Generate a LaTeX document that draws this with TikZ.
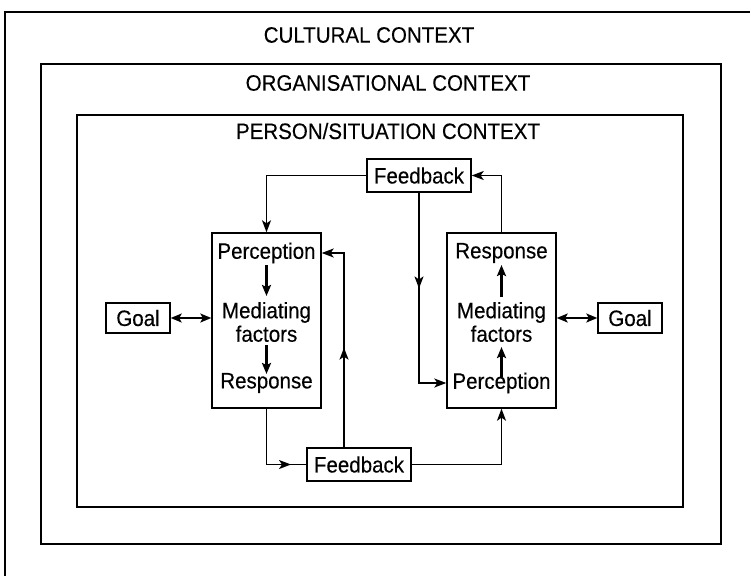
\documentclass[tikz,border=0pt]{standalone}
\usepackage{fontspec}
\setmainfont{Liberation Sans}[FakeStretch=0.92,FakeBold=0.3]
\usetikzlibrary{arrows.meta,decorations.markings}
\tikzset{
  every node/.style={font=\fontsize{22.3}{23.5}\selectfont, inner sep=0pt},
  ln/.style={line width=1.4pt},
  tip/.style={-{Stealth[length=12pt,width=9pt,inset=3pt]}},
  boxn/.style={draw, line width=1.4pt, rectangle},
  bigbox/.style={boxn, minimum width=109pt, minimum height=175pt},
  fbox/.style={boxn, minimum width=104pt, minimum height=33pt},
  gbox/.style={boxn, minimum width=64pt, minimum height=30pt},
  inarr/.style={line width=2.4pt, -{Stealth[length=11pt,width=9pt,inset=2pt]}},
  dbl/.style={line width=1.6pt, {Stealth[length=11pt,width=9pt,inset=2.5pt]}-{Stealth[length=11pt,width=9pt,inset=2.5pt]}},
  midtip/.style={postaction={decorate}, decoration={markings, mark=at position #1 with {\arrow{Stealth[length=12pt,width=9pt,inset=3pt]}}}}
}
\begin{document}
\begin{tikzpicture}[x=1pt,y=-1pt]
\useasboundingbox (0,0) rectangle (750,576);
% context frames
\draw[ln] (5,576) -- (5,12) -- (750,12);
\draw[ln] (41,64) rectangle (721,544);
\draw[ln] (77,115) rectangle (683,507);
\node (cult) at (369,35) {CULTURAL CONTEXT};
\node (org) at (388,83) {ORGANISATIONAL CONTEXT};
\node (pers) at (388,131) {PERSON/SITUATION CONTEXT};
% boxes
\node[bigbox] (lbox) at (266.5,320.5) {};
\node[bigbox] (rbox) at (501.5,320.5) {};
\node[fbox] (fbt) at (419,175.5) {Feedback};
\node[fbox] (fbb) at (359,464.5) {Feedback};
\node[gbox] (goalL) at (138,318) {Goal};
\node[gbox] (goalR) at (630,318) {Goal};
% inner texts
\node (lperc) at (266.5,253) {Perception};
\node[align=center] (lmed) at (266.5,322) {Mediating\\factors};
\node (lresp) at (266.5,383) {Response};
\node (rresp) at (501.5,253) {Response};
\node[align=center] (rmed) at (501.5,322) {Mediating\\factors};
\node (rperc) at (501.5,383) {Perception};
% inner arrows
\draw[inarr] (266.5,265) -- (266.5,296);
\draw[inarr] (266.5,345) -- (266.5,374);
\draw[inarr] (501.5,297) -- (501.5,265);
\draw[inarr] (501.5,377) -- (501.5,347);
% goal arrows
\draw[dbl] (goalL.east) -- (lbox.west |- goalL.east);
\draw[dbl] (goalR.west) -- (rbox.east |- goalR.west);
% feedback loops
\draw[ln,tip] (fbt.west) -| (lbox.north);
\draw[ln,tip] (rbox.north) |- (fbt.east);
\draw[ln,tip,midtip=0.44] (fbt.south) |- (rbox.west |- rperc);
\draw[ln,midtip=0.84] (lbox.south) |- (fbb.west);
\draw[ln,tip,midtip=0.46] ([xshift=-15pt]fbb.north) |- (lbox.east |- lperc);
\draw[ln,tip] (fbb.east) -| (rbox.south);
\end{tikzpicture}
\end{document}
